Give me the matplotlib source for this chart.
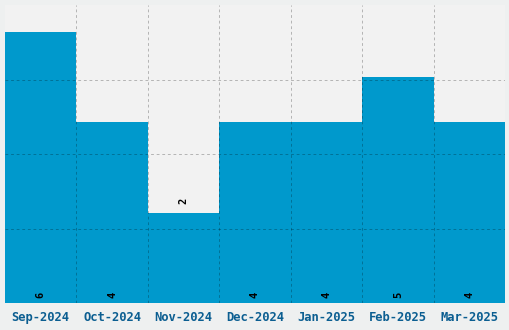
import matplotlib
matplotlib.use("Agg")
import matplotlib.pyplot as plt
import numpy as np

categories = ["Sep-2024", "Oct-2024", "Nov-2024", "Dec-2024", "Jan-2025", "Feb-2025", "Mar-2025"]
values = [6, 4, 2, 4, 4, 5, 4]
label_above = [False, False, True, False, False, False, False]

fig = plt.figure(figsize=(5.1, 3.3), dpi=100, facecolor="#eef0f0")
ax = fig.add_axes([5/510, 27/330, 500/510, 298/330])
ax.set_facecolor("#f2f2f2")

x = np.arange(len(categories))
ax.bar(x, values, width=1.0, color="#0099cc", zorder=2)
ax.set_xlim(-0.5, len(categories) - 0.5)
ymax = 6.6
ax.set_ylim(0, ymax)

ax.set_xticks(x)
ax.set_xticklabels(categories, fontfamily="DejaVu Sans Mono", fontweight="bold",
                   fontsize=8.7, color="#0b5e91")
ax.tick_params(axis="x", length=0, pad=6)
ax.set_xticks(np.arange(1, len(categories)) - 0.5, minor=True)
ax.tick_params(axis="x", which="minor", length=0)
ax.set_yticks(np.linspace(0, ymax, 5)[1:-1])
ax.tick_params(axis="y", length=0, labelleft=False)

ls = (0, (2.8, 2.8))
ax.grid(True, which="minor", axis="x", color="black", alpha=0.25, linestyle=ls, linewidth=0.72, zorder=3)
ax.grid(True, which="major", axis="y", color="black", alpha=0.25, linestyle=ls, linewidth=0.72, zorder=3)
ax.grid(False, which="major", axis="x")
ax.set_axisbelow(False)
for s in ax.spines.values():
    s.set_visible(False)

for xi, v, above in zip(x, values, label_above):
    if above:
        ax.annotate(str(v), (xi, v), xytext=(0, 8.5), textcoords="offset points",
                    rotation=90, ha="center", va="center", fontsize=7.5,
                    fontfamily="DejaVu Sans Mono", fontweight="bold", color="black", zorder=4)
    else:
        ax.annotate(str(v), (xi, 0), xytext=(0, 5.5), textcoords="offset points",
                    rotation=90, ha="center", va="center", fontsize=7.5,
                    fontfamily="DejaVu Sans Mono", fontweight="bold", color="black", zorder=4)

fig.savefig("out.png", dpi=100, facecolor=fig.get_facecolor())
